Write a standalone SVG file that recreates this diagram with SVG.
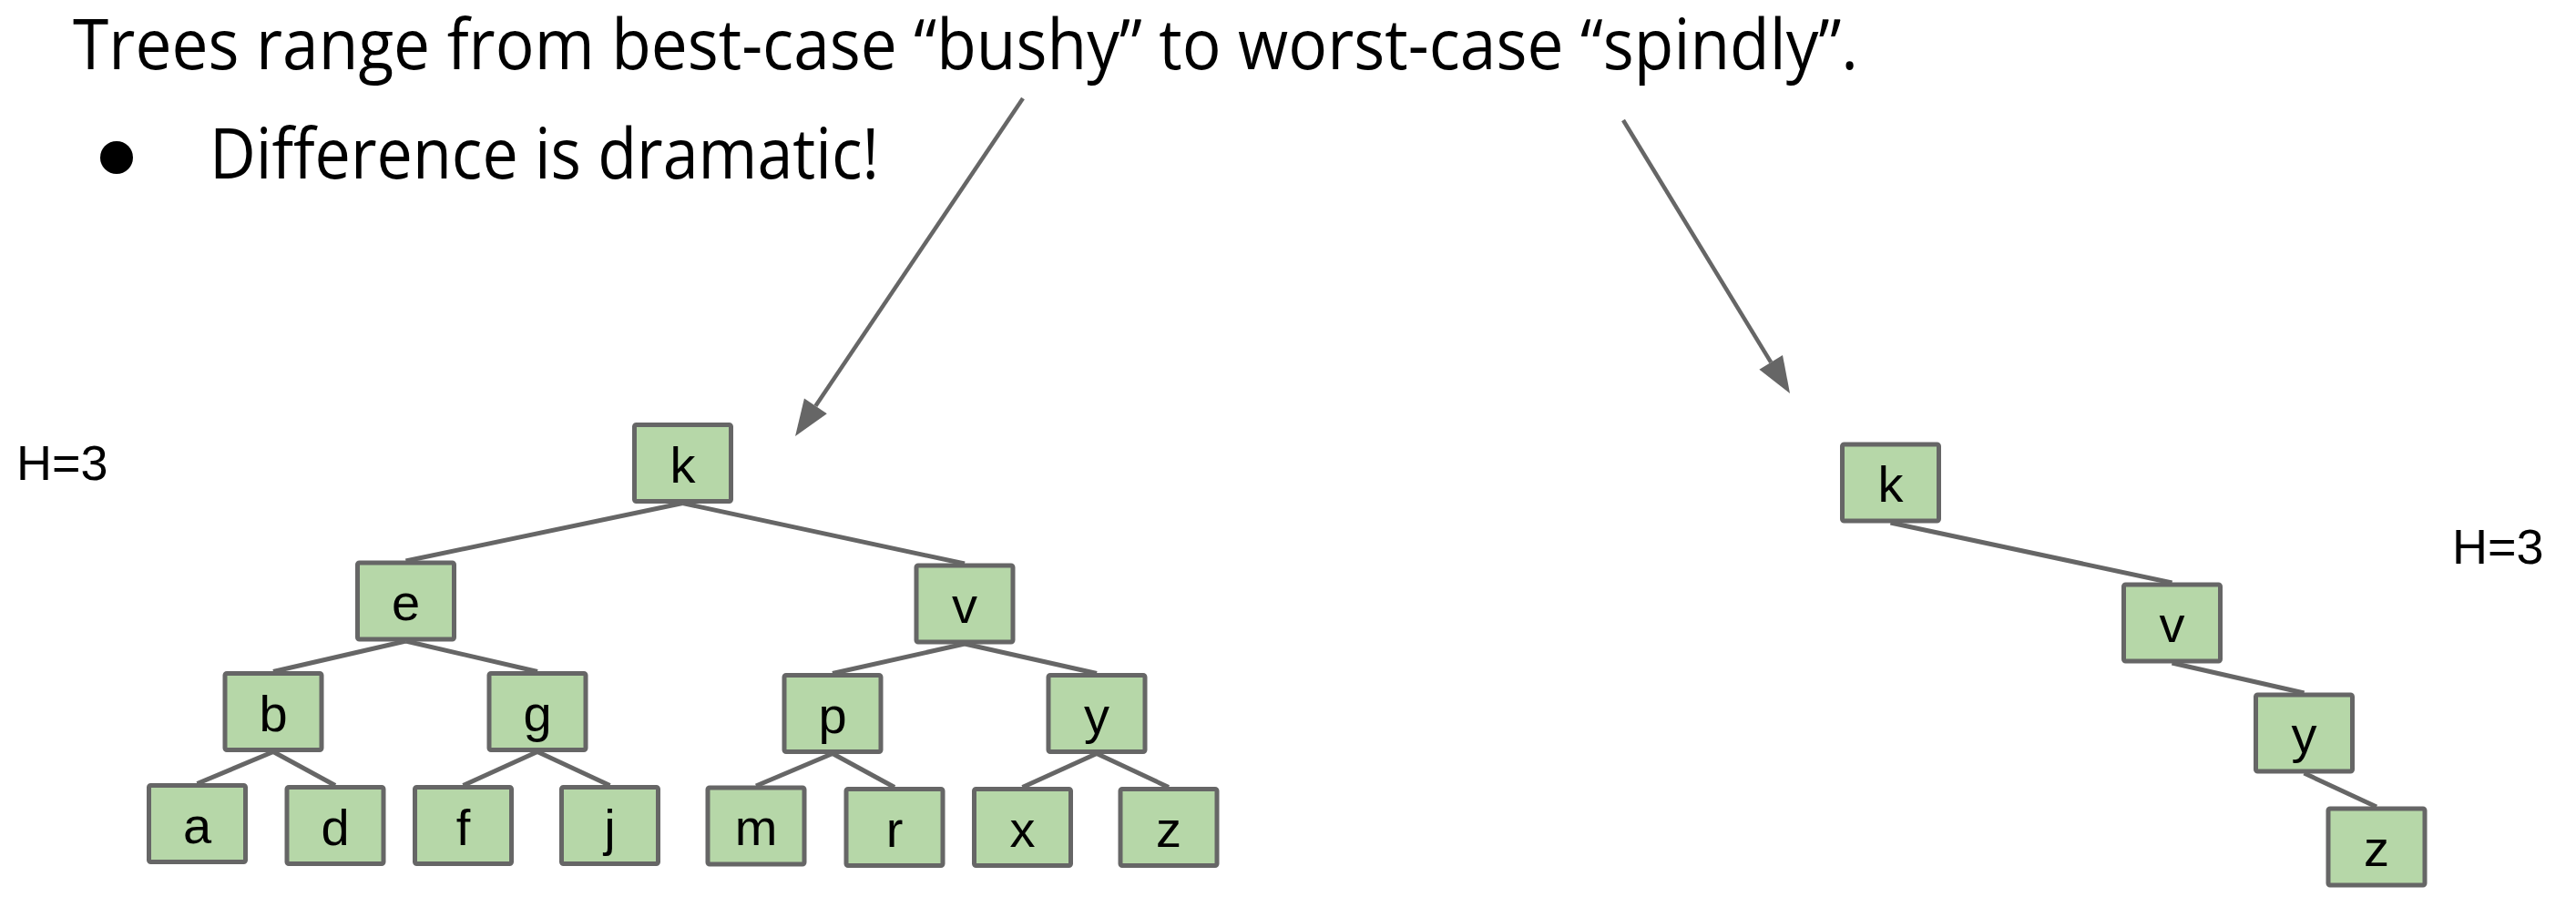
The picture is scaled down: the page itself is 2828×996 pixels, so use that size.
<svg xmlns="http://www.w3.org/2000/svg" width="2828" height="996" viewBox="0 0 2828 996">
<style>
.title{font-family:"Open Sans","Liberation Sans",sans-serif;font-size:76px;fill:#000}
.lbl{font-family:"Liberation Sans",Arial,sans-serif;font-size:56px;fill:#000;text-anchor:middle}
.h{font-family:"Liberation Sans",Arial,sans-serif;font-size:54px;fill:#000}
.box{fill:#b6d7a8;stroke:#666666;stroke-width:5}
.edge{stroke:#666666;stroke-width:5;fill:none}
.arrow{stroke:#666666;stroke-width:4.5;fill:none}
</style>
<defs>
<marker id="ah" markerUnits="userSpaceOnUse" markerWidth="42" markerHeight="32" refX="0" refY="15" orient="auto" overflow="visible">
<path d="M0,0 L40,15 L0,30 Z" fill="#666666"/>
</marker>
</defs>
<rect width="2828" height="996" fill="#fff"/>
<g id="text">
<text class="title" x="80" y="76" textLength="1960" lengthAdjust="spacingAndGlyphs">Trees range from best-case “bushy” to worst-case “spindly”.</text>
<circle cx="128" cy="173" r="18" fill="#000"/>
<text class="title" x="230" y="196" textLength="735" lengthAdjust="spacingAndGlyphs">Difference is dramatic!</text>
<text class="h" x="18" y="527">H=3</text>
<text class="h" x="2692" y="619">H=3</text>
</g>
<g id="connectors">
<line class="arrow" x1="1123" y1="108" x2="895.4" y2="445.8" marker-end="url(#ah)"/>
<line class="arrow" x1="1782" y1="132" x2="1944.2" y2="397.9" marker-end="url(#ah)"/>
<line class="edge" x1="749.5" y1="552.5" x2="445.5" y2="616"/>
<line class="edge" x1="749.5" y1="552.5" x2="1059" y2="619"/>
<line class="edge" x1="445.5" y1="704" x2="300" y2="737.5"/>
<line class="edge" x1="445.5" y1="704" x2="590" y2="737.5"/>
<line class="edge" x1="1059" y1="707" x2="914" y2="739.5"/>
<line class="edge" x1="1059" y1="707" x2="1204" y2="739.5"/>
<line class="edge" x1="300" y1="825.5" x2="216.5" y2="860.5"/>
<line class="edge" x1="300" y1="825.5" x2="368" y2="862.5"/>
<line class="edge" x1="590" y1="825.5" x2="508.5" y2="862.5"/>
<line class="edge" x1="590" y1="825.5" x2="669.5" y2="862.5"/>
<line class="edge" x1="914" y1="827.5" x2="830" y2="863"/>
<line class="edge" x1="914" y1="827.5" x2="982" y2="864.5"/>
<line class="edge" x1="1204" y1="827.5" x2="1122.5" y2="864.5"/>
<line class="edge" x1="1204" y1="827.5" x2="1283" y2="864.5"/>
<line class="edge" x1="2075.5" y1="574" x2="2384.5" y2="640"/>
<line class="edge" x1="2384.5" y1="728" x2="2529.5" y2="761"/>
<line class="edge" x1="2529.5" y1="849" x2="2609" y2="886"/>
</g>
<g id="node-k"><rect class="box" x="696.5" y="466.5" width="106" height="84" rx="2"/><text class="lbl" x="749.5" y="529.5">k</text></g>
<g id="node-e"><rect class="box" x="392.5" y="618" width="106" height="84" rx="2"/><text class="lbl" x="445.5" y="681">e</text></g>
<g id="node-v"><rect class="box" x="1006" y="621" width="106" height="84" rx="2"/><text class="lbl" x="1059" y="684">v</text></g>
<g id="node-b"><rect class="box" x="247" y="739.5" width="106" height="84" rx="2"/><text class="lbl" x="300" y="802.5">b</text></g>
<g id="node-g"><rect class="box" x="537" y="739.5" width="106" height="84" rx="2"/><text class="lbl" x="590" y="802.5">g</text></g>
<g id="node-p"><rect class="box" x="861" y="741.5" width="106" height="84" rx="2"/><text class="lbl" x="914" y="804.5">p</text></g>
<g id="node-y"><rect class="box" x="1151" y="741.5" width="106" height="84" rx="2"/><text class="lbl" x="1204" y="804.5">y</text></g>
<g id="node-a"><rect class="box" x="163.5" y="862.5" width="106" height="84" rx="2"/><text class="lbl" x="216.5" y="925.5">a</text></g>
<g id="node-d"><rect class="box" x="315" y="864.5" width="106" height="84" rx="2"/><text class="lbl" x="368" y="927.5">d</text></g>
<g id="node-f"><rect class="box" x="455.5" y="864.5" width="106" height="84" rx="2"/><text class="lbl" x="508.5" y="927.5">f</text></g>
<g id="node-j"><rect class="box" x="616.5" y="864.5" width="106" height="84" rx="2"/><text class="lbl" x="669.5" y="927.5">j</text></g>
<g id="node-m"><rect class="box" x="777" y="865" width="106" height="84" rx="2"/><text class="lbl" x="830" y="928">m</text></g>
<g id="node-r"><rect class="box" x="929" y="866.5" width="106" height="84" rx="2"/><text class="lbl" x="982" y="929.5">r</text></g>
<g id="node-x"><rect class="box" x="1069.5" y="866.5" width="106" height="84" rx="2"/><text class="lbl" x="1122.5" y="929.5">x</text></g>
<g id="node-z"><rect class="box" x="1230" y="866.5" width="106" height="84" rx="2"/><text class="lbl" x="1283" y="929.5">z</text></g>
<g id="node-k2"><rect class="box" x="2022.5" y="488" width="106" height="84" rx="2"/><text class="lbl" x="2075.5" y="551">k</text></g>
<g id="node-v2"><rect class="box" x="2331.5" y="642" width="106" height="84" rx="2"/><text class="lbl" x="2384.5" y="705">v</text></g>
<g id="node-y2"><rect class="box" x="2476.5" y="763" width="106" height="84" rx="2"/><text class="lbl" x="2529.5" y="826">y</text></g>
<g id="node-z2"><rect class="box" x="2556" y="888" width="106" height="84" rx="2"/><text class="lbl" x="2609" y="951">z</text></g>
</svg>
